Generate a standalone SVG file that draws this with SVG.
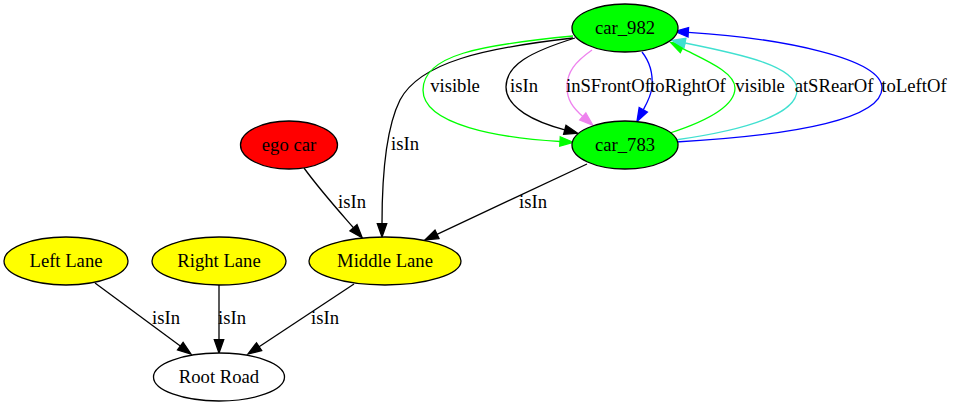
<svg xmlns="http://www.w3.org/2000/svg" width="954" height="407" viewBox="0 0 954 407">
<style>
  .node ellipse { stroke: #000; stroke-width: 1.3; }
  text { font-family: "Liberation Serif", "Times New Roman", serif; font-size: 18.67px; text-anchor: middle; fill: #000; }
  .e { fill: none; stroke-width: 1.3; }
</style>
<defs>
  <marker id="a-black" markerUnits="userSpaceOnUse" markerWidth="16" markerHeight="12" refX="0" refY="5" orient="auto" overflow="visible">
    <path d="M0,0.3 L13.3,5 L0,9.7 z" fill="#000" stroke="#000" stroke-width="1.3"/>
  </marker>
  <marker id="a-green" markerUnits="userSpaceOnUse" markerWidth="16" markerHeight="12" refX="0" refY="5" orient="auto" overflow="visible">
    <path d="M0,0.3 L13.3,5 L0,9.7 z" fill="#00ff00" stroke="#00ff00" stroke-width="1.3"/>
  </marker>
  <marker id="a-blue" markerUnits="userSpaceOnUse" markerWidth="16" markerHeight="12" refX="0" refY="5" orient="auto" overflow="visible">
    <path d="M0,0.3 L13.3,5 L0,9.7 z" fill="#0000ff" stroke="#0000ff" stroke-width="1.3"/>
  </marker>
  <marker id="a-violet" markerUnits="userSpaceOnUse" markerWidth="16" markerHeight="12" refX="0" refY="5" orient="auto" overflow="visible">
    <path d="M0,0.3 L13.3,5 L0,9.7 z" fill="#ee82ee" stroke="#ee82ee" stroke-width="1.3"/>
  </marker>
  <marker id="a-turq" markerUnits="userSpaceOnUse" markerWidth="16" markerHeight="12" refX="0" refY="5" orient="auto" overflow="visible">
    <path d="M0,0.3 L13.3,5 L0,9.7 z" fill="#40e0d0" stroke="#40e0d0" stroke-width="1.3"/>
  </marker>
</defs>
<rect width="954" height="407" fill="#fff"/>
<g id="connectors">
  <!-- car_982 -> Middle Lane -->
  <path class="e" stroke="#000" marker-end="url(#a-black)" d="M573,38 C485,48 420,62 400,100 C385,130 382,180 382,223.7"/>
  <text x="405" y="150">isIn</text>
  <!-- ego car -> Middle Lane -->
  <path class="e" stroke="#000" marker-end="url(#a-black)" d="M304,168 C320,190 338,210 353.5,227.8"/>
  <text x="352" y="208">isIn</text>
  <!-- car_783 -> Middle Lane -->
  <path class="e" stroke="#000" marker-end="url(#a-black)" d="M587,164 L437,234.3"/>
  <text x="533" y="208">isIn</text>
  <!-- Left Lane -> Root Road -->
  <path class="e" stroke="#000" marker-end="url(#a-black)" d="M95,283 L180.3,346.1"/>
  <text x="166" y="324">isIn</text>
  <!-- Right Lane -> Root Road -->
  <path class="e" stroke="#000" marker-end="url(#a-black)" d="M219,285 L219,339.7"/>
  <text x="232" y="324">isIn</text>
  <!-- Middle Lane -> Root Road -->
  <path class="e" stroke="#000" marker-end="url(#a-black)" d="M354,284 L259.1,346.7"/>
  <text x="325" y="324">isIn</text>
  <!-- car_982 -> car_783 visible -->
  <path class="e" stroke="#00ff00" marker-end="url(#a-green)" d="M573,36 C480,45 423,55 423,90 C423,125 500,138 560,141.5"/>
  <text x="455" y="92">visible</text>
  <!-- car_982 -> car_783 isIn -->
  <path class="e" stroke="#000" marker-end="url(#a-black)" d="M575,38 C530,52 506,65 506,87 C506,108 535,122 564.8,129.8"/>
  <text x="524" y="92">isIn</text>
  <!-- car_982 -> car_783 inSFrontOf -->
  <path class="e" stroke="#ee82ee" marker-end="url(#a-violet)" d="M592,50 C575,62 567,72 567,87 C567,100 573,108 582.8,116.5"/>
  <text x="608.5" y="92">inSFrontOf</text>
  <!-- car_982 -> car_783 toRightOf -->
  <path class="e" stroke="#0000ff" marker-end="url(#a-blue)" d="M642,52 C650,62 653,75 652,87 C651,96 647,103 643.3,109.8"/>
  <text x="688" y="92">toRightOf</text>
  <!-- car_783 -> car_982 visible -->
  <path class="e" stroke="#00ff00" marker-end="url(#a-green)" d="M670,133 C710,120 735,105 735,88 C735,72 705,60 682.4,48.4"/>
  <text x="760" y="92">visible</text>
  <!-- car_783 -> car_982 atSRearOf -->
  <path class="e" stroke="#40e0d0" marker-end="url(#a-turq)" d="M675,140 C760,128 797,110 797,90 C797,66 740,54 685,43"/>
  <text x="834" y="92">atSRearOf</text>
  <!-- car_783 -> car_982 toLeftOf -->
  <path class="e" stroke="#0000ff" marker-end="url(#a-blue)" d="M676,142 C800,135 882,118 882,88 C882,58 780,38 688.3,32.3"/>
  <text x="914" y="92">toLeftOf</text>
</g>
<g id="car_982" class="node">
  <ellipse cx="625" cy="28" rx="53" ry="24" fill="#00ff00"/>
  <text x="625" y="34">car_982</text>
</g>
<g id="car_783" class="node">
  <ellipse cx="625" cy="145" rx="53" ry="24" fill="#00ff00"/>
  <text x="625" y="151">car_783</text>
</g>
<g id="ego_car" class="node">
  <ellipse cx="289" cy="145" rx="48.5" ry="24" fill="#ff0000"/>
  <text x="289" y="151">ego car</text>
</g>
<g id="left_lane" class="node">
  <ellipse cx="66" cy="261" rx="62" ry="24" fill="#ffff00"/>
  <text x="66" y="267">Left Lane</text>
</g>
<g id="right_lane" class="node">
  <ellipse cx="219" cy="261" rx="67" ry="24" fill="#ffff00"/>
  <text x="219" y="267">Right Lane</text>
</g>
<g id="middle_lane" class="node">
  <ellipse cx="385" cy="261" rx="76" ry="24" fill="#ffff00"/>
  <text x="385" y="267">Middle Lane</text>
</g>
<g id="root_road" class="node">
  <ellipse cx="219" cy="377" rx="65.5" ry="24" fill="#fff"/>
  <text x="219" y="383">Root Road</text>
</g>
</svg>
